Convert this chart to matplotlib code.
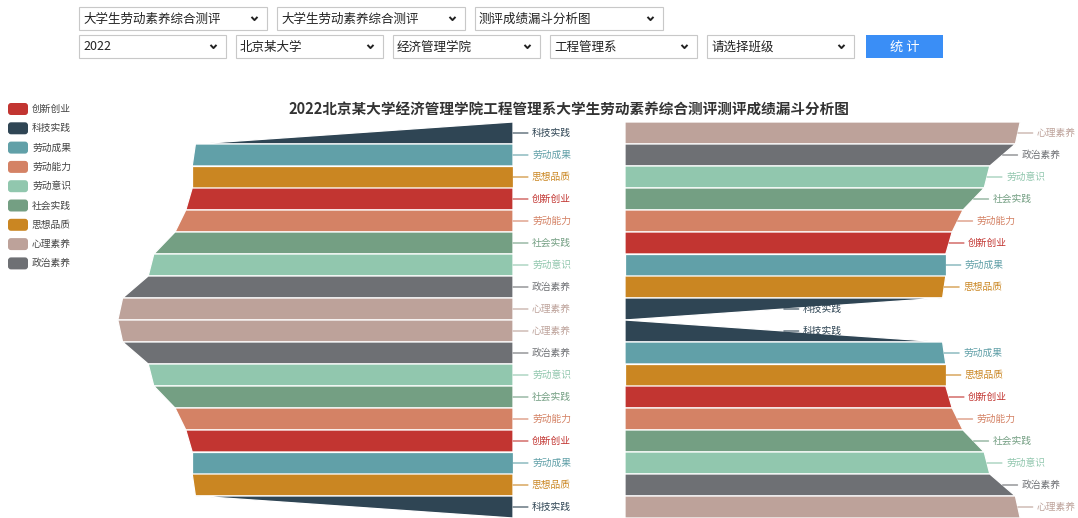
import matplotlib
matplotlib.use('Agg')
import matplotlib.pyplot as plt
from matplotlib.patches import Polygon, Rectangle, FancyBboxPatch

plt.rcParams['font.family'] = ['Noto Sans CJK SC', 'DejaVu Sans']

# ---- data ----
names = ['创新创业', '科技实践', '劳动成果', '劳动能力', '劳动意识',
         '社会实践', '思想品质', '心理素养', '政治素养']
scores = [81.8, 79.4, 80.2, 84.5, 91.2, 89.8, 80.2, 98.8, 97.6]
colors = ['#c23531', '#2f4554', '#61a0a8', '#d48265', '#91c7ae',
          '#749f83', '#ca8622', '#bda29a', '#6e7074']

title = '2022北京某大学经济管理学院工程管理系大学生劳动素养综合测评测评成绩漏斗分析图'
row1_opts = ['大学生劳动素养综合测评', '大学生劳动素养综合测评', '测评成绩漏斗分析图']
row2_opts = ['2022', '北京某大学', '经济管理学院', '工程管理系', '请选择班级']
button_text = '统 计'

W, H = 1078, 518
fig = plt.figure(figsize=(W / 100, H / 100), dpi=100)

# background axes in pixel units for the page controls, legend and title
ui = fig.add_axes([0, 0, 1, 1])
ui.set_xlim(0, W)
ui.set_ylim(H, 0)
ui.axis('off')


def select_box(x, y, w, h, text):
    ui.add_patch(Rectangle((x, y), w, h, facecolor='white', edgecolor='#c8c8c8', lw=0.8))
    ui.text(x + 4, y + h / 2 + 0.5, text, fontsize=9, color='#222', ha='left', va='center')
    cx, cy = x + w - 12.5, y + h / 2
    ui.plot([cx - 3, cx, cx + 3], [cy - 1.6, cy + 1.6, cy - 1.6], color='#222', lw=1.4,
            solid_capstyle='butt')


for i, t in enumerate(row1_opts):
    select_box(79 + 198 * i, 7, 188, 23, t)
for i, t in enumerate(row2_opts):
    select_box(79 + 157 * i, 35, 147, 23, t)
ui.add_patch(Rectangle((866, 35), 77, 23, facecolor='#3a8ef6', edgecolor='none'))
ui.text(904.5, 47, button_text, fontsize=9.5, color='white', ha='center', va='center')

# legend
for i, (n, c) in enumerate(zip(names, colors)):
    yc = 109 + 19.3 * i
    ui.add_patch(FancyBboxPatch((8, yc - 6), 20, 12, boxstyle='round,pad=0,rounding_size=3',
                                facecolor=c, edgecolor='none'))
    ui.text(32, yc, n, fontsize=7, color='#444', ha='left', va='center')

ui.text(569, 110, title, fontsize=10.5, fontweight='bold', color='#333',
        ha='center', va='center')

# ---- funnels ----
asc = sorted(range(len(scores)), key=lambda k: scores[k])
desc = sorted(range(len(scores)), key=lambda k: -scores[k])


def draw_funnel(ax, order, row0, ascending, align_right):
    n = len(order)
    for i, idx in enumerate(order):
        if ascending:
            wt = scores[order[i - 1]] if i > 0 else 0
            wb = scores[idx]
        else:
            wt = scores[idx]
            wb = scores[order[i + 1]] if i < n - 1 else 0
        yt, yb = row0 + i, row0 + i + 1
        pts = [(0, yt), (wt, yt), (wb, yb), (0, yb)]
        ax.add_patch(Polygon(pts, closed=True, facecolor=colors[idx],
                             edgecolor='white', lw=0.9))
        yc = row0 + i + 0.5
        xa = 0 if align_right else (wt + wb) / 2
        ax.annotate('', xy=(xa, yc), xytext=(15, 0), textcoords='offset pixels',
                    annotation_clip=False,
                    arrowprops=dict(arrowstyle='-', color=colors[idx], lw=0.8,
                                    shrinkA=0, shrinkB=0))
        ax.annotate(names[idx], xy=(xa, yc), xytext=(19, 0), textcoords='offset pixels',
                    annotation_clip=False, fontsize=7, color=colors[idx],
                    ha='left', va='center')


ax_l = fig.add_axes([113 / W, 0, 400 / W, 396 / H])
ax_l.set_xlim(100, 0)
ax_r = fig.add_axes([625 / W, 0, 400 / W, 396 / H])
ax_r.set_xlim(0, 100)
for ax in (ax_l, ax_r):
    ax.set_ylim(18, 0)
    ax.axis('off')
    ax.patch.set_alpha(0)

draw_funnel(ax_l, asc, 0, True, True)
draw_funnel(ax_l, desc, 9, False, True)
draw_funnel(ax_r, desc, 0, False, False)
draw_funnel(ax_r, asc, 9, True, False)

fig.savefig('out.png', dpi=100)
